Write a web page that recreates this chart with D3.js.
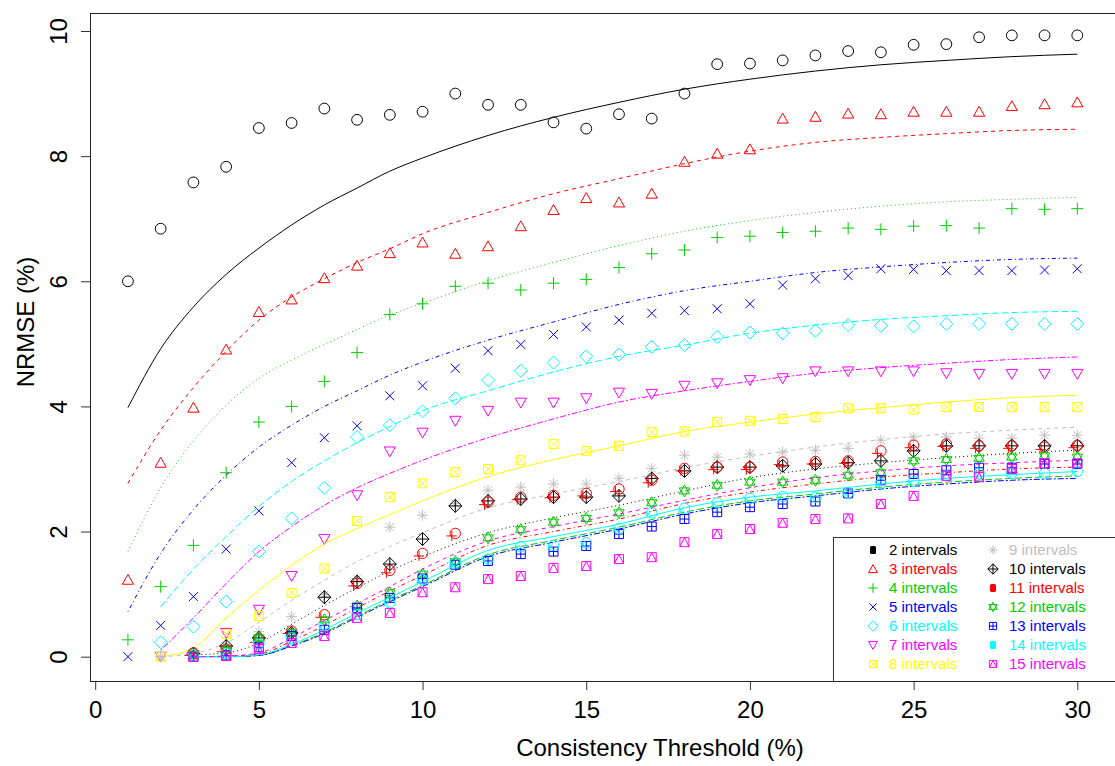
<!DOCTYPE html>
<html>
<head>
<meta charset="utf-8">
<script src="https://cdn.jsdelivr.net/npm/d3@7"></script>
<style>
  body { margin: 0; background: #fff; }
  svg { display: block; font-family: "Liberation Sans", Arial, Helvetica, sans-serif; }
</style>
</head>
<body>
<svg id="chart" width="1115" height="766"></svg>
<script>
// consistency thresholds (%) at which NRMSE was measured
var thresholds = [1, 2, 3, 4, 5, 6, 7, 8, 9, 10, 11, 12, 13, 14, 15,
                  16, 17, 18, 19, 20, 21, 22, 23, 24, 25, 26, 27, 28, 29, 30];

var seriesNames = ['2 intervals', '3 intervals', '4 intervals', '5 intervals', '6 intervals',
                   '7 intervals', '8 intervals', '9 intervals', '10 intervals', '11 intervals',
                   '12 intervals', '13 intervals', '14 intervals', '15 intervals'];

// observed NRMSE (%), one value per threshold, null = not measured
var obs2  = [6.0, 6.84, 7.58, 7.83, 8.45, 8.53, 8.76, 8.58, 8.66, 8.71, 9.0, 8.82, 8.82, 8.54, 8.44,
             8.67, 8.6, 9.0, 9.47, 9.48, 9.53, 9.61, 9.68, 9.66, 9.78, 9.79, 9.9, 9.93, 9.93, 9.93];
var obs3  = [1.23, 3.1, 3.98, 4.91, 5.51, 5.71, 6.05, 6.25, 6.45, 6.62, 6.44, 6.56, 6.88, 7.14, 7.33,
             7.26, 7.4, 7.91, 8.04, 8.11, 8.6, 8.63, 8.68, 8.67, 8.71, 8.71, 8.71, 8.8, 8.83, 8.86];
var obs4  = [0.27, 1.12, 1.78, 2.94, 3.75, 4.0, 4.4, 4.86, 5.47, 5.64, 5.92, 5.97, 5.86, 5.97, 6.03,
             6.22, 6.44, 6.5, 6.7, 6.72, 6.78, 6.8, 6.85, 6.83, 6.88, 6.89, 6.85, 7.16, 7.15, 7.16];
var obs5  = [0.0, 0.5, 0.96, 1.72, 2.33, 3.1, 3.5, 3.69, 4.17, 4.33, 4.61, 4.89, 4.99, 5.15, 5.27,
             5.38, 5.49, 5.53, 5.56, 5.64, 5.94, 6.04, 6.09, 6.2, 6.19, 6.17, 6.17, 6.17, 6.18, 6.2];
var obs6  = [null, 0.23, 0.48, 0.88, 1.68, 2.21, 2.7, 3.51, 3.7, 3.92, 4.13, 4.42, 4.57, 4.7, 4.8,
             4.83, 4.95, 4.98, 5.11, 5.18, 5.17, 5.21, 5.3, 5.29, 5.28, 5.32, 5.32, 5.32, 5.32, 5.32];
var obs7  = [null, 0.0, 0.02, 0.38, 0.75, 1.29, 1.88, 2.58, 3.28, 3.58, 3.77, 3.93, 4.06, 4.06, 4.13,
             4.22, 4.2, 4.33, 4.37, 4.42, 4.45, 4.56, 4.56, 4.56, 4.56, 4.53, 4.52, 4.52, 4.52, 4.52];
var obs8  = [null, 0.0, 0.03, 0.36, 0.65, 1.02, 1.41, 2.17, 2.55, 2.77, 2.95, 3.0, 3.14, 3.4, 3.29,
             3.37, 3.59, 3.6, 3.75, 3.77, 3.8, 3.83, 3.97, 3.97, 3.95, 3.99, 3.99, 3.99, 3.99, 3.99];
var obs9  = [null, 0.0, 0.05, 0.18, 0.4, 0.64, 0.99, 1.25, 2.07, 2.26, 2.45, 2.66, 2.71, 2.76, 2.76,
             2.85, 3.01, 3.22, 3.19, 3.24, 3.27, 3.3, 3.33, 3.46, 3.51, 3.51, 3.49, 3.49, 3.54, 3.54];
var obs10 = [null, null, 0.05, 0.17, 0.3, 0.38, 0.95, 1.2, 1.48, 1.88, 2.41, 2.49, 2.52, 2.55, 2.55,
             2.57, 2.85, 2.97, 3.03, 3.03, 3.05, 3.08, 3.1, 3.13, 3.29, 3.37, 3.37, 3.37, 3.37, 3.37];
var obs11 = [null, null, 0.06, 0.12, 0.27, 0.41, 0.67, 1.17, 1.38, 1.65, 1.97, 2.47, 2.55, 2.58, 2.61,
             2.68, 2.82, 3.01, 3.03, 3.03, 3.11, 3.12, 3.13, 3.29, 3.38, 3.4, 3.37, 3.37, 3.35, 3.38];
var obs12 = [null, null, 0.03, 0.1, 0.3, 0.38, 0.59, 0.81, 1.02, 1.32, 1.52, 1.9, 2.03, 2.15, 2.21,
             2.3, 2.46, 2.65, 2.74, 2.79, 2.79, 2.82, 2.9, 2.94, 3.13, 3.15, 3.17, 3.19, 3.21, 3.19];
var obs13 = [null, null, 0.0, 0.02, 0.15, 0.33, 0.43, 0.78, 0.94, 1.25, 1.47, 1.53, 1.64, 1.68, 1.77,
             1.96, 2.08, 2.2, 2.31, 2.39, 2.44, 2.48, 2.61, 2.82, 2.92, 2.98, 3.02, 3.02, 3.08, 3.08];
var obs14 = [null, null, 0.03, 0.05, 0.2, 0.3, 0.48, 0.67, 0.86, 1.23, 1.5, 1.56, 1.76, 1.78, 1.82,
             2.05, 2.3, 2.37, 2.46, 2.53, 2.56, 2.55, 2.62, 2.77, 2.8, 2.9, 2.93, 2.93, 2.93, 2.96];
var obs15 = [null, null, 0.0, 0.01, 0.12, 0.22, 0.33, 0.62, 0.7, 1.03, 1.11, 1.24, 1.29, 1.42, 1.45,
             1.56, 1.59, 1.83, 1.96, 2.04, 2.14, 2.2, 2.21, 2.44, 2.57, 2.89, 2.87, 3.0, 3.09, 3.09];

var fitThresholds = [1, 2, 3, 4, 5, 6, 7, 8, 9, 10, 12, 14, 16, 18, 20, 22, 24, 26, 28, 30];
var fit2  = [3.98, 4.92, 5.59, 6.11, 6.53, 6.9, 7.22, 7.49, 7.76, 7.97, 8.33, 8.62, 8.86, 9.07, 9.23, 9.36, 9.46, 9.53, 9.59, 9.63];
var fit3  = [2.77, 3.62, 4.3, 4.88, 5.38, 5.75, 6.04, 6.3, 6.52, 6.76, 7.1, 7.4, 7.64, 7.88, 8.08, 8.22, 8.3, 8.36, 8.41, 8.43];
var fit4  = [1.68, 2.7, 3.45, 4.02, 4.45, 4.74, 4.99, 5.23, 5.46, 5.65, 6.01, 6.3, 6.57, 6.8, 6.97, 7.1, 7.2, 7.27, 7.31, 7.34];
var fit5  = [0.72, 1.65, 2.35, 2.9, 3.35, 3.7, 4.0, 4.25, 4.5, 4.71, 5.06, 5.35, 5.63, 5.85, 6.0, 6.14, 6.23, 6.3, 6.35, 6.37];
var fit6  = [null, 0.8, 1.4, 1.92, 2.4, 2.8, 3.13, 3.42, 3.68, 3.93, 4.25, 4.55, 4.8, 4.98, 5.17, 5.3, 5.39, 5.45, 5.5, 5.52];
var fit7  = [null, 0.1, 0.62, 1.17, 1.68, 2.08, 2.42, 2.7, 2.93, 3.14, 3.5, 3.8, 4.07, 4.25, 4.4, 4.53, 4.62, 4.69, 4.75, 4.79];
var fit8  = [null, 0.0, 0.14, 0.62, 1.06, 1.46, 1.8, 2.05, 2.27, 2.49, 2.88, 3.15, 3.37, 3.6, 3.75, 3.88, 3.98, 4.07, 4.14, 4.18];
var fit9  = [null, 0.0, 0.05, 0.22, 0.55, 0.9, 1.22, 1.52, 1.76, 1.98, 2.38, 2.6, 2.8, 3.02, 3.2, 3.35, 3.47, 3.56, 3.62, 3.67];
var fit10 = [null, null, 0.03, 0.06, 0.22, 0.52, 0.82, 1.1, 1.37, 1.6, 1.98, 2.22, 2.42, 2.65, 2.86, 3.0, 3.1, 3.18, 3.25, 3.3];
var fit11 = [null, null, 0.0, 0.01, 0.04, 0.25, 0.5, 0.78, 1.05, 1.3, 1.78, 2.0, 2.2, 2.45, 2.63, 2.76, 2.87, 2.94, 3.0, 3.03];
var fit12 = [null, null, 0.0, 0.0, 0.02, 0.18, 0.39, 0.65, 0.9, 1.14, 1.63, 1.86, 2.07, 2.31, 2.49, 2.6, 2.71, 2.79, 2.85, 2.89];
var fit13 = [null, null, 0.0, 0.0, 0.02, 0.17, 0.37, 0.63, 0.88, 1.12, 1.6, 1.83, 2.04, 2.28, 2.46, 2.57, 2.68, 2.76, 2.82, 2.85];
var fit14 = [null, null, 0.0, 0.0, 0.03, 0.2, 0.43, 0.7, 0.95, 1.2, 1.7, 1.92, 2.12, 2.38, 2.55, 2.65, 2.76, 2.85, 2.91, 2.96];
var fit15 = [null, null, 0.0, 0.01, 0.06, 0.3, 0.58, 0.85, 1.12, 1.4, 1.85, 2.08, 2.28, 2.5, 2.7, 2.86, 2.97, 3.05, 3.1, 3.14];

var xTicks = [0, 5, 10, 15, 20, 25, 30];
var yTicks = [0, 2, 4, 6, 8, 10];

var observed = [obs2, obs3, obs4, obs5, obs6, obs7, obs8, obs9, obs10, obs11, obs12, obs13, obs14, obs15];
var fitted = [fit2, fit3, fit4, fit5, fit6, fit7, fit8, fit9, fit10, fit11, fit12, fit13, fit14, fit15];

// R default palette, symbols 1..14 and line types 1..6
var palette = ['#000000', '#FF0000', '#00CD00', '#0000FF', '#00FFFF', '#FF00FF', '#FFFF00', '#BEBEBE'];
var dashes = [null, '4,4', '1,3', '1,3,4,3', '7,3', '2,2,6,2'];

var frame = {left: 90, right: 1115, top: 13, bottom: 681};

var x = d3.scaleLinear().domain([0, 30]).range([95.2, 1077.3]),
    y = d3.scaleLinear().domain([0, 10]).range([656.7, 31]);

var svg = d3.select('#chart');

function colorOf(i) { return palette[i % 8]; }

// draws an R style plotting symbol (pch) centred at 0,0 in group g
function drawSymbol(g, pch, color, k) {
  var s = function(v) { return v * k; };
  var path = function(d) {
    g.append('path').attr('d', d).attr('fill', 'none').attr('stroke', color).attr('stroke-width', 1);
  };
  var circle = function(cx, cy, r) {
    g.append('circle').attr('cx', cx).attr('cy', cy).attr('r', r)
     .attr('fill', 'none').attr('stroke', color).attr('stroke-width', 1);
  };
  var sq = 'M' + s(-4.5) + ',' + s(-4.5) + 'H' + s(4.5) + 'V' + s(4.5) + 'H' + s(-4.5) + 'Z';
  switch (pch) {
    case 1: circle(0, 0, s(5.4)); break;
    case 2: path('M0,' + s(-5.4) + 'L' + s(5.6) + ',' + s(4.5) + 'L' + s(-5.6) + ',' + s(4.5) + 'Z'); break;
    case 3: path('M' + s(-6) + ',0H' + s(6) + 'M0,' + s(-6) + 'V' + s(6)); break;
    case 4: path('M' + s(-4.5) + ',' + s(-4.5) + 'L' + s(4.5) + ',' + s(4.5) + 'M' + s(-4.5) + ',' + s(4.5) + 'L' + s(4.5) + ',' + s(-4.5)); break;
    case 5: path('M0,' + s(-6.5) + 'L' + s(6.5) + ',0L0,' + s(6.5) + 'L' + s(-6.5) + ',0Z'); break;
    case 6: path('M0,' + s(5.4) + 'L' + s(5.6) + ',' + s(-4.5) + 'L' + s(-5.6) + ',' + s(-4.5) + 'Z'); break;
    case 7: path(sq + 'M' + s(-4.5) + ',' + s(-4.5) + 'L' + s(4.5) + ',' + s(4.5) + 'M' + s(-4.5) + ',' + s(4.5) + 'L' + s(4.5) + ',' + s(-4.5)); break;
    case 8: path('M' + s(-5.5) + ',0H' + s(5.5) + 'M0,' + s(-5.5) + 'V' + s(5.5) +
                 'M' + s(-4) + ',' + s(-4) + 'L' + s(4) + ',' + s(4) + 'M' + s(-4) + ',' + s(4) + 'L' + s(4) + ',' + s(-4)); break;
    case 9: path('M0,' + s(-6.5) + 'L' + s(6.5) + ',0L0,' + s(6.5) + 'L' + s(-6.5) + ',0Z' +
                 'M' + s(-6.5) + ',0H' + s(6.5) + 'M0,' + s(-6.5) + 'V' + s(6.5)); break;
    case 10: // circle sits up and right of its cross in the original
      circle(0, 0, s(5.2));
      path('M' + s(-9) + ',' + s(2.5) + 'H' + s(1.5) + 'M' + s(-3.5) + ',' + s(-2.5) + 'V' + s(7.5)); break;
    case 11: path('M0,' + s(-6) + 'L' + s(5.2) + ',' + s(3) + 'L' + s(-5.2) + ',' + s(3) + 'Z' +
                  'M0,' + s(6) + 'L' + s(5.2) + ',' + s(-3) + 'L' + s(-5.2) + ',' + s(-3) + 'Z'); break;
    case 12: path(sq + 'M' + s(-4.5) + ',0H' + s(4.5) + 'M0,' + s(-4.5) + 'V' + s(4.5)); break;
    case 13:
      circle(0, 0, s(5.2));
      path('M' + s(-6.5) + ',' + s(-2) + 'L' + s(-0.5) + ',' + s(4) + 'M' + s(-6.5) + ',' + s(4) + 'L' + s(-0.5) + ',' + s(-2)); break;
    case 14: path(sq + 'M' + s(-4.5) + ',' + s(4.5) + 'L0,' + s(-4.5) + 'L' + s(4.5) + ',' + s(4.5)); break;
  }
}

var line = d3.line()
  .defined(function(d) { return d[1] !== null; })
  .x(function(d) { return x(d[0]); })
  .y(function(d) { return y(d[1]); })
  .curve(d3.curveMonotoneX);

var plot = svg.append('g').attr('class', 'plot');

observed.forEach(function(values, i) {
  var color = colorOf(i),
      pch = i + 1;

  var pts = thresholds.map(function(t, j) { return [t, values[j]]; })
                      .filter(function(d) { return d[1] !== null; });

  plot.append('g')
      .attr('class', 'series-points')
      .selectAll('g')
      .data(pts)
      .enter()
      .append('g')
      .attr('transform', function(d) { return 'translate(' + x(d[0]) + ',' + y(d[1]) + ')'; })
      .each(function() { drawSymbol(d3.select(this), pch, color, 1); });

  var curve = fitThresholds.map(function(t, j) { return [t, fitted[i][j]]; })
                           .filter(function(d) { return d[1] !== null; });

  plot.append('path')
      .datum(curve)
      .attr('class', 'fit')
      .attr('fill', 'none')
      .attr('stroke', color)
      .attr('stroke-width', 1)
      .attr('stroke-dasharray', dashes[i % 6])
      .attr('d', line);
});

// x axis
var xAxis = d3.axisBottom(x).tickValues(xTicks).tickSize(9).tickSizeOuter(0);
var gx = svg.append('g')
            .attr('class', 'x axis')
            .attr('transform', 'translate(0,' + frame.bottom + ')')
            .call(xAxis);
gx.select('.domain').remove();
gx.selectAll('.tick line').attr('stroke', '#333');
gx.selectAll('.tick text')
  .attr('y', 37).attr('dy', 0)
  .attr('fill', '#000')
  .style('font-size', '24px')
  .style('font-family', '"Liberation Sans", Arial, sans-serif');

// y axis, labels rotated like R's default las = 0
var yAxis = d3.axisLeft(y).tickValues(yTicks).tickSize(9).tickSizeOuter(0);
var gy = svg.append('g')
            .attr('class', 'y axis')
            .attr('transform', 'translate(' + frame.left + ',0)')
            .call(yAxis);
gy.select('.domain').remove();
gy.selectAll('.tick line').attr('stroke', '#333');
gy.selectAll('.tick text')
  .attr('x', 0).attr('dy', 0)
  .attr('transform', 'translate(-23,0) rotate(-90)')
  .attr('text-anchor', 'middle')
  .attr('fill', '#000')
  .style('font-size', '24px')
  .style('font-family', '"Liberation Sans", Arial, sans-serif');

// axis titles
svg.append('text')
   .attr('x', 660)
   .attr('y', 756)
   .attr('text-anchor', 'middle')
   .style('font-size', '24px')
   .text('Consistency Threshold (%)');

svg.append('text')
   .attr('transform', 'translate(34,322) rotate(-90)')
   .attr('text-anchor', 'middle')
   .style('font-size', '24px')
   .text('NRMSE (%)');

// legend, two columns in the bottom right corner
var legendBox = {x: 833, y: 537};
var legend = svg.append('g').attr('class', 'legend');

legend.append('rect')
      .attr('x', legendBox.x + 0.5)
      .attr('y', legendBox.y + 0.5)
      .attr('width', frame.right - legendBox.x)
      .attr('height', frame.bottom - legendBox.y)
      .attr('fill', '#fff')
      .attr('stroke', '#333');

var items = legend.selectAll('.item')
                  .data(seriesNames)
                  .enter()
                  .append('g')
                  .attr('class', 'item')
                  .attr('transform', function(d, i) {
                    var col = Math.floor(i / 7), row = i % 7;
                    return 'translate(' + (legendBox.x + 40 + col * 120) + ',' + (legendBox.y + 13 + row * 19) + ')';
                  });

items.each(function(d, i) {
  var g = d3.select(this), pch = i + 1, color = colorOf(i);
  if (pch === 1 || pch === 10 || pch === 13) {
    // small open circles come out as solid blobs in the original legend
    g.append('rect').attr('x', -3).attr('y', -4).attr('width', 6).attr('height', 8)
     .attr('rx', 1.5).attr('fill', color);
  } else {
    drawSymbol(g, pch, color, 0.8);
  }
  g.append('text')
   .attr('x', 16)
   .attr('dy', '0.36em')
   .attr('fill', color)
   .style('font-size', '15px')
   .text(d);
});

// plot frame
svg.append('rect')
   .attr('x', frame.left + 0.5)
   .attr('y', frame.top + 0.5)
   .attr('width', frame.right - frame.left)
   .attr('height', frame.bottom - frame.top)
   .attr('fill', 'none')
   .attr('stroke', '#222');
</script>
</body>
</html>
